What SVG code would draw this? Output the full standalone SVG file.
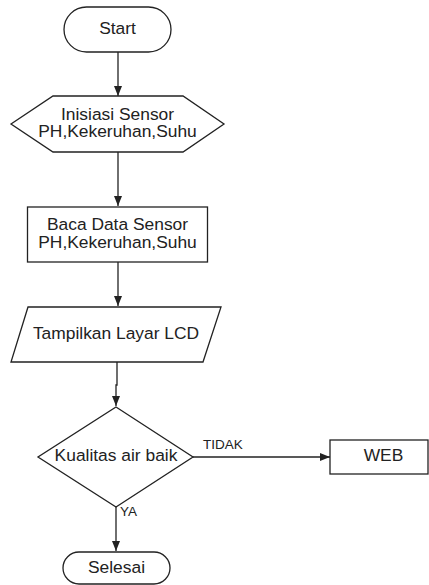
<svg xmlns="http://www.w3.org/2000/svg" width="429" height="585" viewBox="0 0 429 585">
<defs>
<style>
.s{fill:#fff;stroke:#222;stroke-width:1.3}
.t{font-family:"Liberation Sans",Arial,sans-serif;font-size:17.4px;fill:#222;text-anchor:middle}
.l{font-family:"Liberation Sans",Arial,sans-serif;font-size:13.5px;fill:#222}
.c{fill:none;stroke:#222;stroke-width:1.3}
</style>
<marker id="ah" markerWidth="10" markerHeight="8" refX="10" refY="4" orient="auto" markerUnits="userSpaceOnUse">
<path d="M0,0 L10,4 L0,8 Z" fill="#222"/>
</marker>
</defs>
<rect width="429" height="585" fill="#fff"/>
<g id="connectors">
<line class="c" x1="118" y1="52" x2="118" y2="96" marker-end="url(#ah)"/>
<line class="c" x1="118" y1="152" x2="118" y2="206" marker-end="url(#ah)"/>
<line class="c" x1="118" y1="262" x2="118" y2="306" marker-end="url(#ah)"/>
<polyline class="c" points="117,362 117,385 116,385 116,406" marker-end="url(#ah)"/>
<line class="c" x1="193" y1="457" x2="330" y2="457" marker-end="url(#ah)"/>
<line class="c" x1="116" y1="507" x2="116" y2="551" marker-end="url(#ah)"/>
<text class="l" x="203" y="449">TIDAK</text>
<text class="l" x="120" y="516">YA</text>
</g>
<g id="start">
<rect class="s" x="64" y="7" width="107" height="45" rx="22.5"/>
<text class="t" x="117.5" y="33.5">Start</text>
</g>
<g id="inisiasi">
<polygon class="s" points="11,124 53,96 183,96 224,124 183,152 53,152"/>
<text class="t" x="117.5" y="119.5">Inisiasi Sensor</text>
<text class="t" x="117.5" y="137">PH,Kekeruhan,Suhu</text>
</g>
<g id="baca">
<rect class="s" x="27.5" y="207" width="180" height="55"/>
<text class="t" x="117.5" y="230">Baca Data Sensor</text>
<text class="t" x="117.5" y="247.5">PH,Kekeruhan,Suhu</text>
</g>
<g id="tampilkan">
<polygon class="s" points="28,307 221,307 203,362 11,362"/>
<text class="t" x="116" y="339">Tampilkan Layar LCD</text>
</g>
<g id="kualitas">
<polygon class="s" points="116,407 193,457 116,507 38,457"/>
<text class="t" x="116" y="461">Kualitas air baik</text>
</g>
<g id="web">
<rect class="s" x="330" y="440" width="98" height="34"/>
<text class="t" x="383.5" y="461">WEB</text>
</g>
<g id="selesai">
<rect class="s" x="63" y="552" width="107" height="32" rx="16"/>
<text class="t" x="116.5" y="572.5">Selesai</text>
</g>
</svg>
